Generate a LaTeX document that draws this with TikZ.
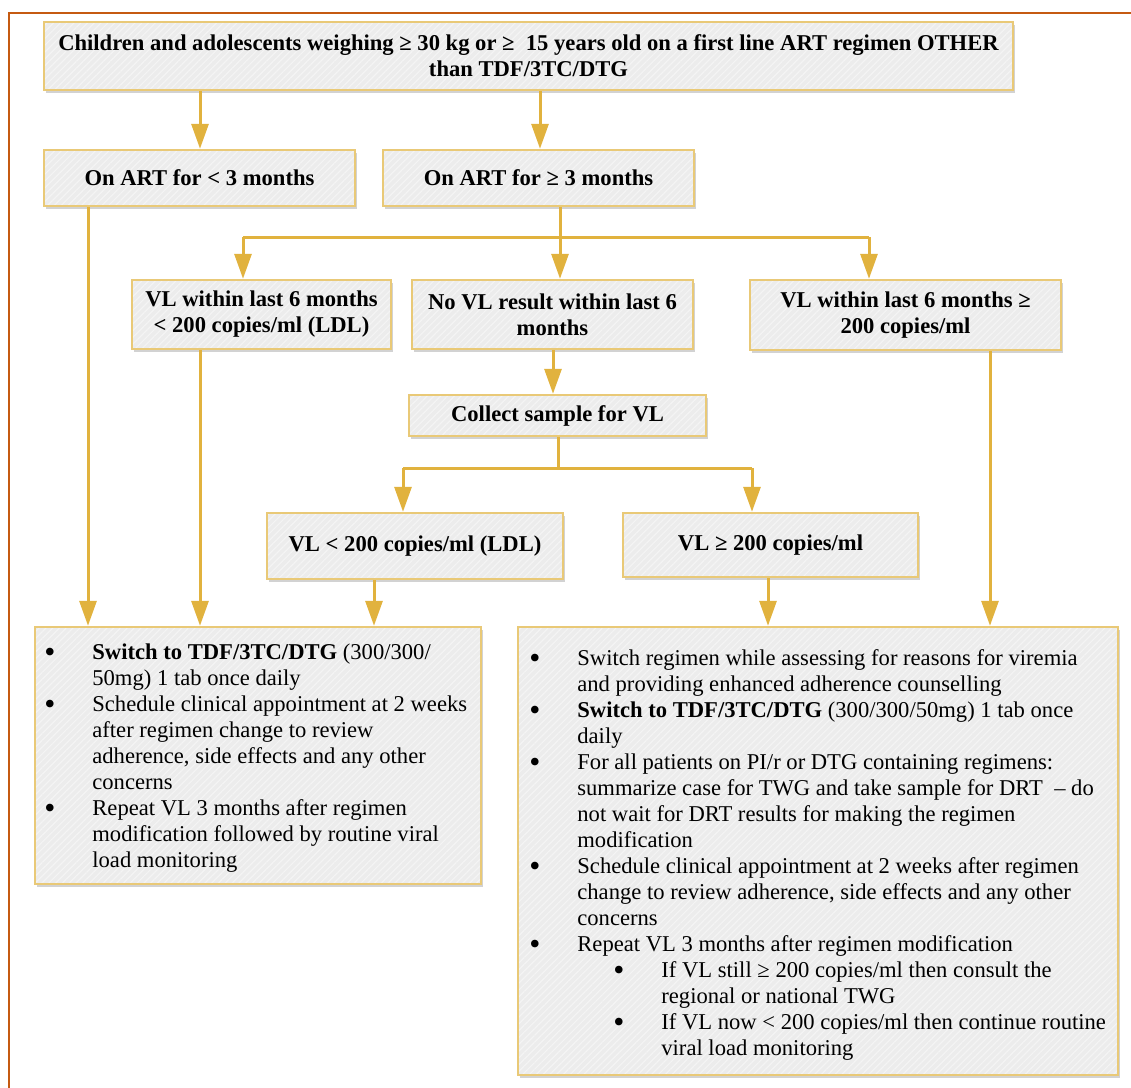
\documentclass[tikz,border=0pt]{standalone}
\usepackage{fontspec}
\setmainfont{Liberation Serif}
\usetikzlibrary{arrows.meta,shadows,patterns.meta}

\definecolor{framec}{HTML}{C55A11}
\definecolor{boxline}{HTML}{E9C977}
\definecolor{arrowc}{HTML}{E1B23E}
\definecolor{boxfill}{HTML}{ECECEC}
\definecolor{stripe}{HTML}{F4F4F4}

\tikzset{
  x=0.5pt, y=-0.5pt,
  frameline/.style={draw=framec, line width=1.2pt},
  box/.style={draw=boxline, line width=1.2pt,
    drop shadow={shadow xshift=0.9pt, shadow yshift=-1.3pt, opacity=0.25, fill=black!70},
    preaction={fill=boxfill},
    preaction={pattern={Lines[angle=45,distance=2.4pt,line width=0.6pt]}, pattern color=stripe},
    align=center, inner sep=0pt,
    font=\fontsize{11.3}{13}\selectfont\bfseries},
  listtext/.style={inner sep=0pt, anchor=north west, font=\fontsize{11.3}{13}\selectfont},
  conn/.style={draw=arrowc, line width=1.5pt},
  arr/.style={conn, -{Triangle[length=12.5pt,width=8.5pt]}},
}

% list bullet, slightly enlarged and centred on the x-height
\newcommand{\bul}{\smash{\raisebox{-1.3pt}{\scalebox{1.4}{•}}}}
% nested bullet inside the second column of a list
\newcommand{\subitemline}[1]{\hspace*{18pt}\makebox[24pt][l]{\bul}#1}
\newcommand{\subcontline}[1]{\hspace*{42pt}#1}

\begin{document}
\begin{tikzpicture}
\useasboundingbox (0,0) rectangle (1131,1088);

% outer frame
\draw[frameline] (1131,13) -- (9,13) -- (9,1088);

% boxes
\node[box, minimum width=484.5pt, minimum height=34pt] (top) at (528.5,56)
  {Children and adolescents weighing ≥ 30 kg or ≥~ 15 years old on a first line ART regimen OTHER\\than TDF/3TC/DTG};
\node[box, minimum width=155.5pt, minimum height=28pt] (lt3) at (199.5,178) {On ART for < 3 months};
\node[box, minimum width=155.5pt, minimum height=28pt] (ge3) at (538.5,178) {On ART for ≥ 3 months};
\node[box, minimum width=129.5pt, minimum height=34.5pt] (vlok) at (261.5,314.5)
  {VL within last 6 months\\< 200 copies/ml (LDL)};
\node[box, minimum width=140.5pt, minimum height=34.5pt] (novl) at (552.5,314.5)
  {No VL result within last 6\\months};
\node[box, minimum width=155.5pt, minimum height=35pt] (vlhigh) at (905.5,315)
  {VL within last 6 months ≥\\200 copies/ml};
\node[box, minimum width=148.5pt, minimum height=20.5pt] (collect) at (557.5,415.5) {Collect sample for VL};
\node[box, minimum width=148pt, minimum height=33pt] (ldl) at (415,546) {VL < 200 copies/ml (LDL)};
\node[box, minimum width=147.5pt, minimum height=32pt] (high) at (770.5,545) {VL ≥ 200 copies/ml};
\node[box, minimum width=223pt, minimum height=128.5pt] (sw) at (258,755.5) {};
\node[box, minimum width=300pt, minimum height=224pt] (rb) at (818,851) {};

% list texts
\node[listtext] (swtext) at (44,641) {%
\begin{tabular}{@{}p{24pt}@{}l@{}}
\bul & \textbf{Switch to TDF/3TC/DTG} (300/300/\\
  & 50mg) 1 tab once daily\\
\bul & Schedule clinical appointment at 2 weeks\\
  & after regimen change to review\\
  & adherence, side effects and any other\\
  & concerns\\
\bul & Repeat VL 3 months after regimen\\
  & modification followed by routine viral\\
  & load monitoring
\end{tabular}};

\node[listtext] (rbtext) at (529,647) {%
\begin{tabular}{@{}p{24pt}@{}l@{}}
\bul & Switch regimen while assessing for reasons for viremia\\
  & and providing enhanced adherence counselling\\
\bul & \textbf{Switch to TDF/3TC/DTG} (300/300/50mg) 1 tab once\\
  & daily\\
\bul & For all patients on PI/r or DTG containing regimens:\\
  & summarize case for TWG and take sample for DRT~ – do\\
  & not wait for DRT results for making the regimen\\
  & modification\\
\bul & Schedule clinical appointment at 2 weeks after regimen\\
  & change to review adherence, side effects and any other\\
  & concerns\\
\bul & Repeat VL 3 months after regimen modification\\
  & \subitemline{If VL still ≥ 200 copies/ml then consult the}\\
  & \subcontline{regional or national TWG}\\
  & \subitemline{If VL now < 200 copies/ml then continue routine}\\
  & \subcontline{viral load monitoring}
\end{tabular}};

% connector columns and junctions
\coordinate (xa) at (200,0);
\coordinate (xb) at (540,0);
\coordinate (x1) at (88,0);
\coordinate (x2) at (200,0);
\coordinate (x3) at (374,0);
\coordinate (x4) at (768,0);
\coordinate (x5) at (990,0);
\coordinate (x6) at (553,0);
\coordinate (ja) at (560,237);
\coordinate (jaL) at (243,237);
\coordinate (jaR) at (869,237);
\coordinate (jb) at (558,468);
\coordinate (jbL) at (403,468);
\coordinate (jbR) at (752,468);

% connectors
\draw[arr] (top.south -| xa) -- (lt3.north -| xa);
\draw[arr] (top.south -| xb) -- (ge3.north -| xb);

\draw[conn] (ge3.south -| ja) -- (ja);
\draw[conn] (jaL) -- (jaR);
\draw[arr] (jaL) -- (vlok.north -| jaL);
\draw[arr] (ja) -- (novl.north -| ja);
\draw[arr] (jaR) -- (vlhigh.north -| jaR);

\draw[arr] (novl.south -| x6) -- (collect.north -| x6);
\draw[conn] (collect.south -| jb) -- (jb);
\draw[conn] (jbL) -- (jbR);
\draw[arr] (jbL) -- (ldl.north -| jbL);
\draw[arr] (jbR) -- (high.north -| jbR);

\draw[arr] (lt3.south -| x1) -- (sw.north -| x1);
\draw[arr] (vlok.south -| x2) -- (sw.north -| x2);
\draw[arr] (ldl.south -| x3) -- (sw.north -| x3);
\draw[arr] (high.south -| x4) -- (rb.north -| x4);
\draw[arr] (vlhigh.south -| x5) -- (rb.north -| x5);
\end{tikzpicture}
\end{document}
